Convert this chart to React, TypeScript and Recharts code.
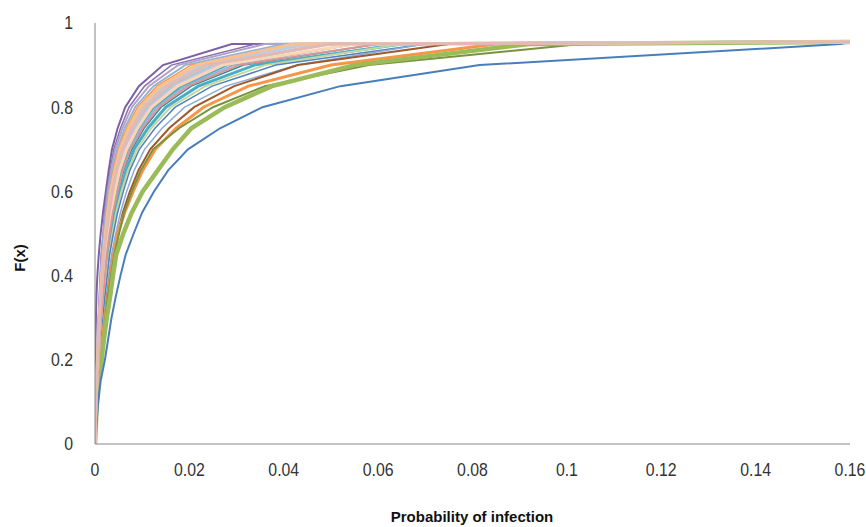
import { LineChart, Line, XAxis, YAxis } from "recharts"

// cumulative probability levels shared by every curve
const levels = [0, 0.05, 0.1, 0.15, 0.2, 0.25, 0.3, 0.35, 0.4, 0.45, 0.5, 0.55, 0.6, 0.65, 0.7, 0.75, 0.8, 0.85, 0.9, 0.95, 0.955]

// x (probability of infection) reached at each level, one array per curve
const purple1 = [0, 0, 0, 0, 0, 0.0001, 0.0002, 0.0003, 0.0005, 0.0008, 0.0012, 0.0017, 0.0023, 0.0029, 0.0036, 0.0048, 0.0064, 0.0093, 0.0144, 0.029, 0.16]
const purple2 = [0, 0.0001, 0.0001, 0.0002, 0.0004, 0.0006, 0.0007, 0.0009, 0.0011, 0.0013, 0.0017, 0.002, 0.0025, 0.0032, 0.004, 0.0054, 0.0072, 0.0105, 0.0162, 0.034, 0.16]
const lilac1 = [0, 0.0001, 0.0002, 0.0003, 0.0004, 0.0006, 0.0008, 0.001, 0.0012, 0.0014, 0.0018, 0.0022, 0.0027, 0.0034, 0.0043, 0.0058, 0.0078, 0.0114, 0.0176, 0.036, 0.16]
const skyBlue1 = [0, 0.0001, 0.0002, 0.0003, 0.0005, 0.0007, 0.0008, 0.0011, 0.0013, 0.0016, 0.0019, 0.0024, 0.003, 0.0037, 0.0047, 0.0063, 0.0085, 0.0124, 0.0191, 0.04, 0.16]
const orange1 = [0, 0.0001, 0.0002, 0.0003, 0.0005, 0.0007, 0.0009, 0.0011, 0.0014, 0.0017, 0.0021, 0.0025, 0.0032, 0.0039, 0.005, 0.0067, 0.009, 0.0131, 0.0203, 0.045, 0.16]
const peach1 = [0, 0.0001, 0.0002, 0.0003, 0.0005, 0.0007, 0.0009, 0.0012, 0.0014, 0.0018, 0.0022, 0.0027, 0.0033, 0.0042, 0.0053, 0.0071, 0.0095, 0.0139, 0.0214, 0.042, 0.16]
const skyBlue2 = [0, 0.0001, 0.0002, 0.0003, 0.0006, 0.0008, 0.001, 0.0012, 0.0015, 0.0019, 0.0023, 0.0028, 0.0035, 0.0044, 0.0056, 0.0075, 0.01, 0.0146, 0.0225, 0.045, 0.16]
const pink1 = [0, 0.0001, 0.0002, 0.0004, 0.0006, 0.0008, 0.001, 0.0013, 0.0016, 0.0019, 0.0024, 0.003, 0.0037, 0.0046, 0.0058, 0.0078, 0.0105, 0.0153, 0.0236, 0.05, 0.16]
const aqua1 = [0, 0.0001, 0.0002, 0.0004, 0.0006, 0.0008, 0.0011, 0.0014, 0.0017, 0.002, 0.0025, 0.0031, 0.0039, 0.0048, 0.0061, 0.0082, 0.011, 0.0161, 0.0248, 0.05, 0.16]
const lilac2 = [0, 0.0001, 0.0002, 0.0004, 0.0006, 0.0009, 0.0011, 0.0014, 0.0017, 0.0021, 0.0026, 0.0032, 0.004, 0.005, 0.0064, 0.0086, 0.0115, 0.0168, 0.0259, 0.048, 0.16]
const peach2 = [0, 0.0001, 0.0002, 0.0004, 0.0007, 0.0009, 0.0012, 0.0015, 0.0018, 0.0022, 0.0027, 0.0034, 0.0042, 0.0052, 0.0067, 0.009, 0.012, 0.0175, 0.027, 0.055, 0.16]
const aqua2 = [0, 0.0001, 0.0002, 0.0004, 0.0007, 0.001, 0.0012, 0.0016, 0.0019, 0.0023, 0.0029, 0.0035, 0.0044, 0.0055, 0.0069, 0.0093, 0.0125, 0.0183, 0.0281, 0.055, 0.16]
const skyBlue3 = [0, 0.0001, 0.0002, 0.0004, 0.0007, 0.001, 0.0013, 0.0016, 0.002, 0.0024, 0.003, 0.0037, 0.0046, 0.0057, 0.0072, 0.0097, 0.013, 0.019, 0.0293, 0.055, 0.16]
const rose1 = [0, 0.0001, 0.0003, 0.0005, 0.0008, 0.001, 0.0013, 0.0017, 0.0021, 0.0025, 0.0031, 0.0038, 0.0048, 0.0059, 0.0075, 0.0101, 0.0135, 0.0197, 0.0304, 0.06, 0.16]
const teal1 = [0, 0.0001, 0.0003, 0.0005, 0.0008, 0.0011, 0.0014, 0.0017, 0.0021, 0.0026, 0.0032, 0.004, 0.0049, 0.0061, 0.0078, 0.0104, 0.014, 0.0204, 0.0315, 0.06, 0.16]
const aqua3 = [0, 0.0001, 0.0003, 0.0005, 0.0008, 0.0012, 0.0015, 0.0019, 0.0023, 0.0028, 0.0034, 0.0042, 0.0053, 0.0066, 0.0083, 0.0112, 0.015, 0.0219, 0.0338, 0.065, 0.16]
const paleGreen1 = [0, 0.0001, 0.0003, 0.0005, 0.0009, 0.0012, 0.0016, 0.002, 0.0024, 0.003, 0.0037, 0.0045, 0.0056, 0.007, 0.0089, 0.0119, 0.016, 0.0234, 0.036, 0.065, 0.16]
const blue2 = [0, 0.0001, 0.0003, 0.0006, 0.001, 0.0013, 0.0017, 0.0021, 0.0026, 0.0031, 0.0039, 0.0048, 0.006, 0.0074, 0.0094, 0.0127, 0.017, 0.0248, 0.0383, 0.07, 0.16]
const skyBlue4 = [0, 0.0002, 0.0004, 0.0006, 0.0011, 0.0015, 0.0019, 0.0024, 0.0029, 0.0035, 0.0044, 0.0054, 0.0067, 0.0083, 0.0105, 0.0142, 0.019, 0.0277, 0.0428, 0.07, 0.16]
const brown1 = [0, 0.0002, 0.0004, 0.0007, 0.0012, 0.0016, 0.0021, 0.0026, 0.0032, 0.0039, 0.0048, 0.0059, 0.0074, 0.0092, 0.0117, 0.0157, 0.021, 0.0295, 0.043, 0.075, 0.16]
const orange2 = [0, 0.0002, 0.0004, 0.0007, 0.0012, 0.0016, 0.0021, 0.0027, 0.0033, 0.004, 0.0048, 0.0063, 0.0081, 0.0101, 0.0128, 0.0172, 0.023, 0.0325, 0.05, 0.085, 0.16]
const darkGreen1 = [0, 0.0002, 0.0004, 0.0008, 0.0012, 0.0017, 0.0022, 0.0027, 0.0034, 0.0041, 0.0051, 0.0062, 0.0078, 0.0097, 0.0123, 0.0178, 0.025, 0.036, 0.058, 0.103, 0.16]
const green1 = [0, 0.0002, 0.0004, 0.0007, 0.0014, 0.0019, 0.0025, 0.0032, 0.0038, 0.0045, 0.006, 0.0078, 0.0101, 0.0133, 0.0165, 0.0204, 0.0275, 0.0375, 0.055, 0.092, 0.16]
const blue1 = [0, 0.0003, 0.0007, 0.0012, 0.0021, 0.0028, 0.0035, 0.0044, 0.0054, 0.0065, 0.0082, 0.01, 0.0125, 0.0155, 0.0197, 0.0265, 0.0355, 0.052, 0.0815, 0.158, 0.16]

const xTicks = [0, 0.02, 0.04, 0.06, 0.08, 0.1, 0.12, 0.14, 0.16]
const yTicks = [0, 0.2, 0.4, 0.6, 0.8, 1]

// draw order follows the picture: pale pinks end up on top
const series = [
  { name: "s1", x: purple1, color: "#7D5FA6", width: 2 },
  { name: "s2", x: purple2, color: "#8A70AE", width: 1.5 },
  { name: "s3", x: lilac1, color: "#B3A2C7", width: 2 },
  { name: "s4", x: skyBlue1, color: "#95B3D7", width: 2 },
  { name: "s5", x: orange1, color: "#F79646", width: 1.5 },
  { name: "s6", x: skyBlue2, color: "#B9CDE5", width: 3 },
  { name: "s7", x: aqua1, color: "#93CDDD", width: 2 },
  { name: "s8", x: skyBlue3, color: "#95B3D7", width: 2 },
  { name: "s9", x: aqua2, color: "#4BACC6", width: 2 },
  { name: "s10", x: teal1, color: "#31859C", width: 1.5 },
  { name: "s11", x: aqua3, color: "#4BACC6", width: 3 },
  { name: "s12", x: paleGreen1, color: "#C3D69B", width: 2 },
  { name: "s13", x: blue2, color: "#4F81BD", width: 1.5 },
  { name: "s14", x: skyBlue4, color: "#8EA9D6", width: 1.5 },
  { name: "s15", x: brown1, color: "#9C5A2B", width: 2 },
  { name: "s16", x: orange2, color: "#F79646", width: 3 },
  { name: "s17", x: darkGreen1, color: "#77933C", width: 2 },
  { name: "s18", x: green1, color: "#9BBB59", width: 4.5 },
  { name: "s19", x: blue1, color: "#4A7EBB", width: 2 },
  { name: "s20", x: lilac2, color: "#CCC1DA", width: 3 },
  { name: "s21", x: peach1, color: "#FAC090", width: 3 },
  { name: "s22", x: peach2, color: "#FCD5B5", width: 3 },
  { name: "s23", x: rose1, color: "#D99694", width: 2 },
  { name: "s24", x: pink1, color: "#E2BAB4", width: 3 },
]

const tickFont = "'Liberation Sans', Arial, sans-serif"

// tall, slightly condensed tick text like the original export
function NarrowTick(props: any) {
  const { x, y, payload, textAnchor, verticalAnchor } = props
  const dy = verticalAnchor === "start" ? "0.71em" : "0.355em"
  return (
    <g transform={`translate(${x},${y}) scale(0.88,1)`}>
      <text x={0} y={0} dy={dy} textAnchor={textAnchor} fill="#333" fontSize={18} fontFamily={tickFont}>
        {String(payload.value)}
      </text>
    </g>
  )
}

export default function App() {
  return (
    <div style={{ position: "absolute", left: 0, top: 0, background: "#fff" }}>
      <LineChart width={866} height={527} margin={{ top: 23, right: 16, bottom: 0, left: 0 }}>
        <XAxis
          dataKey="x"
          type="number"
          domain={[0, 0.16]}
          ticks={xTicks}
          allowDataOverflow
          height={83}
          tickLine={false}
          tickSize={0}
          tickMargin={19}
          stroke="#868686"
          tick={<NarrowTick />}
          label={{
            content: () => (
              <text x={472} y={522} textAnchor="middle" fontFamily={tickFont} fontWeight="bold" fontSize={15} fill="#111">
                Probability of infection
              </text>
            ),
          }}
        />
        <YAxis
          type="number"
          domain={[0, 1]}
          ticks={yTicks}
          width={95}
          tickLine={false}
          tickSize={0}
          tickMargin={22}
          stroke="#868686"
          tick={<NarrowTick />}
          label={{
            content: () => (
              <text x={25} y={258} transform="rotate(-90 25 258)" textAnchor="middle" fontFamily={tickFont} fontWeight="bold" fontSize={15} fill="#111">
                F(x)
              </text>
            ),
          }}
        />
        {series.map((s) => (
          <Line
            key={s.name}
            data={s.x.map((x, i) => ({ x, F: levels[i] }))}
            dataKey="F"
            type="linear"
            stroke={s.color}
            strokeWidth={s.width}
            dot={false}
            activeDot={false}
            isAnimationActive={false}
          />
        ))}
      </LineChart>
    </div>
  )
}
